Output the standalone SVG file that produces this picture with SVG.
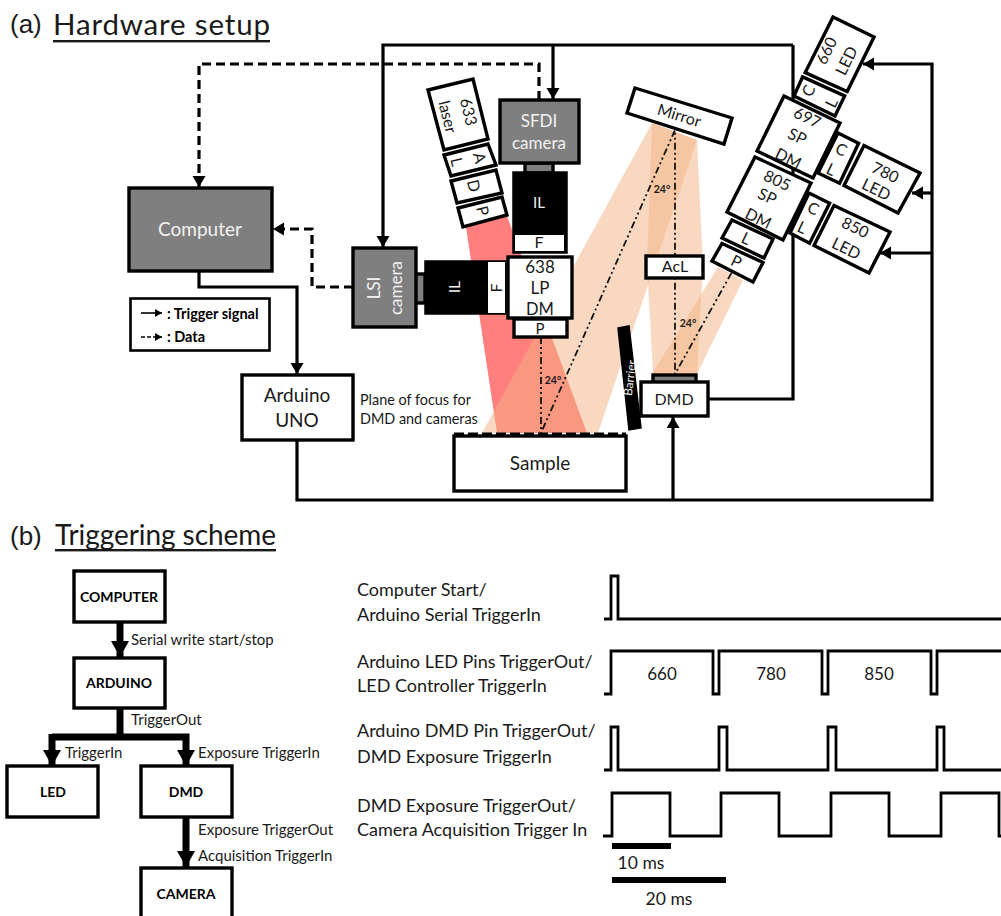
<svg xmlns="http://www.w3.org/2000/svg" width="1001" height="916" viewBox="0 0 1001 916">
<defs>
<marker id="ah" markerUnits="userSpaceOnUse" markerWidth="14" markerHeight="14" refX="11" refY="6.500" orient="auto"><path d="M0,0 L11,6.500 L0,13 Z" fill="#000"/></marker>
<marker id="ahs" markerUnits="userSpaceOnUse" markerWidth="8" markerHeight="8" refX="7" refY="4" orient="auto"><path d="M0,0 L7,4 L0,8 Z" fill="#000"/></marker>
<marker id="ahb" markerUnits="userSpaceOnUse" markerWidth="17" markerHeight="18" refX="16" refY="9" orient="auto"><path d="M0,0 L16,9 L0,18 Z" fill="#000"/></marker>
</defs>
<style>
text{font-family:Lato,"Open Sans",sans-serif;fill:#1a1a1a;text-anchor:middle}
.s{fill:#fff;stroke:#000;stroke-width:3.4}
.g{fill:#7f7f7f;stroke:#000;stroke-width:3.4}
.k{fill:#000;stroke:#000;stroke-width:1.500}
.w{fill:#f2f2f2}
.n{font-size:16px}
.m{font-size:17px}
.b{font-weight:700;font-size:14px;fill:#000}
.l{font-size:15px;text-anchor:start}
.h{font-size:18px;text-anchor:start}
.d{font-weight:700;font-size:10.500px}
.c{fill:none;stroke:#000;stroke-width:3.200}
.da{stroke-dasharray:9 5}
.dd{fill:none;stroke:#111;stroke-width:1.800;stroke-dasharray:7 3 2 3 2 3}
.t{fill:none;stroke:#000;stroke-width:7}
.v{fill:none;stroke:#000;stroke-width:2.800}
.bm{fill:#f4b183;opacity:.5}
</style>
<text x="10" y="33" style="font-family:'Liberation Sans',sans-serif;font-size:26px;text-anchor:start">(a)</text>
<text x="53" y="35" style="font-size:29.500px;text-anchor:start" textLength="217">Hardware setup</text>
<rect x="53" y="40" width="217" height="2.400" fill="#1a1a1a"/>
<text x="10" y="545" style="font-family:'Liberation Sans',sans-serif;font-size:26px;text-anchor:start">(b)</text>
<text x="55" y="545" style="font-size:28px;text-anchor:start" textLength="221">Triggering scheme</text>
<rect x="55" y="549" width="221" height="2.400" fill="#1a1a1a"/>

<g id="beams">
<path d="M466,227 L507,216 L587,433 L497,433 Z" fill="#ff7f7f"/>
<path class="bm" d="M652,123 L697,140 L598,433 L482,433 Z"/>
<path class="bm" d="M652,123 L697,140 L703,265 L697,374 L653,374 L647,265 Z"/>
<path class="bm" d="M718,267 L743,280 L697,374 L652,374 Z"/>
</g>

<g id="connectors">
<path class="c" d="M793,45 H383 V247" marker-end="url(#ah)"/>
<path class="c" d="M553,45 V99" marker-end="url(#ah)"/>
<path class="c" d="M793,45 V399 H708"/>
<path class="c da" d="M539,100 V64 H199 V187" marker-end="url(#ah)"/>
<path class="c da" d="M353,287 H312 V229 H273" marker-end="url(#ah)"/>
<path class="c" d="M199,271 V287 H297 V374" marker-end="url(#ah)"/>
<path class="c" d="M297,440 V500 H932 V64 H863" marker-end="url(#ah)"/>
<path class="c" d="M932,193 H912" marker-end="url(#ah)"/>
<path class="c" d="M932,253 H880" marker-end="url(#ah)"/>
<path class="c" d="M673,500 V417" marker-end="url(#ah)"/>
<path class="dd" d="M541,337 V433 L675,130 V374 L732,272"/>
<path class="t" d="M120,622 V657" marker-end="url(#ahb)"/>
<path class="t" d="M120,708 V737"/>
<path class="t" d="M52,737 H186 V766" marker-end="url(#ahb)"/>
<path class="t" d="M52,734 V766" marker-end="url(#ahb)"/>
<path class="t" d="M186,817 V867" marker-end="url(#ahb)"/>
</g>

<g id="computer"><rect class="g" x="129" y="188" width="143" height="83"/><text class="w" x="200" y="236" style="font-size:19px">Computer</text></g>
<g id="legend"><rect class="s" x="130.500" y="298.500" width="139" height="52" style="stroke-width:2.600"/>
<path d="M141,313 H162" stroke="#000" stroke-width="1.600" fill="none" marker-end="url(#ahs)"/>
<path d="M141,337 H162" stroke="#000" stroke-width="1.600" fill="none" stroke-dasharray="4 2" marker-end="url(#ahs)"/>
<text class="b" x="167" y="319" style="text-anchor:start;font-size:14.500px">: Trigger signal</text>
<text class="b" x="167" y="342" style="text-anchor:start;font-size:14.500px">: Data</text></g>
<g id="arduino"><rect class="s" x="242" y="375" width="111" height="65"/><text x="297" y="402" style="font-size:19px">Arduino</text><text x="297" y="427" style="font-size:19px">UNO</text></g>
<g id="focus-label"><text class="l" x="360" y="405" style="font-size:14.400px">Plane of focus for</text><text class="l" x="360" y="424" style="font-size:14.400px">DMD and cameras</text></g>

<g id="sfdi-camera"><rect class="g" x="525" y="163" width="28" height="10"/><rect class="g" x="500" y="100" width="79" height="63"/><text class="w" x="539" y="127" style="font-size:17px">SFDI</text><text class="w" x="539" y="149" style="font-size:17px">camera</text></g>
<g id="sfdi-il"><rect class="k" x="513" y="172" width="54" height="81"/><text class="w" x="539" y="208" style="font-size:15px">IL</text><rect x="515" y="235" width="49" height="16" fill="#fff"/><text class="n" x="539" y="248">F</text></g>
<g id="lsi-camera"><rect class="g" x="414" y="274" width="11" height="29"/><rect class="g" x="353" y="248" width="63" height="79"/><g transform="translate(374,288) rotate(-90)"><text class="w" y="6" style="font-size:17px">LSI</text></g><g transform="translate(396,288) rotate(-90)"><text class="w" y="6" style="font-size:17px">camera</text></g></g>
<g id="lsi-il"><rect class="k" x="425" y="261" width="81" height="53"/><g transform="translate(455,287) rotate(-90)"><text class="w" y="5" style="font-size:15px">IL</text></g><rect x="488" y="262" width="17" height="51" fill="#fff"/><g transform="translate(497,288) rotate(-90)"><text class="n" y="5">F</text></g></g>
<g id="p-sample"><rect class="s" x="514" y="319" width="53" height="18"/><text x="540" y="334" style="font-size:15px">P</text></g>
<g id="lp-dm"><rect class="s" x="508" y="257" width="64" height="61"/><text class="m" x="540" y="273">638</text><text class="m" x="540" y="294">LP</text><text x="540" y="315" style="font-size:16.500px">DM</text></g>

<g id="laser"><polygon class="s" points="428,90 473,79 488,139 444,150"/><g transform="translate(468,112) rotate(76)"><text class="n" y="5">633</text></g><g transform="translate(447,117) rotate(76)"><text class="n" y="5">laser</text></g></g>
<g id="laser-al"><polygon class="s" points="444,155 488,144 496,165 451,176"/><g transform="translate(479,158) rotate(76)"><text class="n" y="5">A</text></g><g transform="translate(456,162) rotate(76)"><text class="n" y="5">L</text></g></g>
<g id="laser-d"><polygon class="s" points="451,181 496,170 502,193 457,203"/><g transform="translate(473,186) rotate(76)"><text class="n" y="5">D</text></g></g>
<g id="laser-p"><polygon class="s" points="458,208 502,197 507,215 463,227"/><g transform="translate(482,211) rotate(76)"><text class="n" y="5">P</text></g></g>

<g id="mirror"><polygon class="s" points="635,88 732,118 724,144 627,113"/><g transform="translate(679,116) rotate(17)"><text class="n" y="5">Mirror</text></g></g>
<g id="acl"><rect class="s" x="646" y="256" width="57" height="22"/><text class="n" x="675" y="272">AcL</text></g>
<g id="led-660"><polygon class="s" points="833,17 874,37 847.200,91.600 805.200,72.600"/><g transform="translate(827,51) rotate(-64)"><text class="n" y="5">660</text></g><g transform="translate(847,61) rotate(-64)"><text class="n" y="5">LED</text></g></g>
<g id="cl-660"><polygon class="s" points="802.600,76.900 844.600,95.900 835,116 794,96"/><g transform="translate(809,91) rotate(-64)"><text class="n" y="5">C</text></g><g transform="translate(832,103) rotate(-64)"><text class="n" y="5">L</text></g></g>
<g id="dm-697"><polygon class="s" points="784,96 840,123 813,178 757,151"/><g transform="translate(807,118) rotate(26)"><text class="n" y="5">697</text></g><g transform="translate(797,137) rotate(26)"><text class="n" y="5">SP</text></g><g transform="translate(788,159) rotate(26)"><text class="n" y="5">DM</text></g></g>
<g id="dm-805"><polygon class="s" points="755,157 811,183 783,240 727,212"/><g transform="translate(777,181) rotate(26)"><text class="n" y="5">805</text></g><g transform="translate(767,197) rotate(26)"><text class="n" y="5">SP</text></g><g transform="translate(758,219) rotate(26)"><text class="n" y="5">DM</text></g></g>
<g id="l-dmd"><polygon class="s" points="732,220 773,239 764,258 722,238"/><g transform="translate(746,239) rotate(26)"><text class="n" y="5">L</text></g></g>
<g id="p-dmd"><polygon class="s" points="722,243.500 763,262.500 753,282 712,261"/><g transform="translate(736,262) rotate(26)"><text class="n" y="5">P</text></g></g>
<g id="cl-780"><polygon class="s" points="838,133 858.600,143.300 839.600,183.300 818,173"/><g transform="translate(841,150) rotate(26)"><text class="n" y="5">C</text></g><g transform="translate(831,170) rotate(26)"><text class="n" y="5">L</text></g></g>
<g id="led-780"><polygon class="s" points="864,145.500 920,173 898,213 844,185.500"/><g transform="translate(885,173) rotate(26)"><text class="n" y="5">780</text></g><g transform="translate(876,190) rotate(26)"><text class="n" y="5">LED</text></g></g>
<g id="cl-850"><polygon class="s" points="809,193 829.600,203.300 809.600,243.300 790,233"/><g transform="translate(813,209) rotate(26)"><text class="n" y="5">C</text></g><g transform="translate(802,228) rotate(26)"><text class="n" y="5">L</text></g></g>
<g id="led-850"><polygon class="s" points="834,205.500 890,232 869,273 814,245.500"/><g transform="translate(855,228) rotate(26)"><text class="n" y="5">850</text></g><g transform="translate(846,249) rotate(26)"><text class="n" y="5">LED</text></g></g>

<g id="barrier"><polygon class="k" points="618,328 629,326 641,428 629,430"/><g transform="translate(630,378) rotate(-83)"><text class="w" y="4" style="font-size:12px">Barrier</text></g></g>
<g id="dmd"><rect class="g" x="653" y="375" width="43" height="8"/><rect class="s" x="641" y="382" width="67" height="34"/><text x="674" y="405" style="font-size:16px">DMD</text></g>
<g id="sample"><rect class="s" x="454" y="436" width="172" height="55"/><line x1="454" y1="434" x2="626" y2="434" stroke="#000" stroke-width="3" stroke-dasharray="10 4"/><text x="540" y="470" style="font-size:19px">Sample</text></g>
<g id="angles"><text class="d" x="553" y="384">24°</text><text class="d" x="688" y="327">24°</text><text class="d" x="662" y="193">24°</text></g>

<g id="b-computer"><rect class="s" x="74" y="571" width="91" height="51"/><text class="b" x="119" y="602">COMPUTER</text></g>
<g id="b-arduino"><rect class="s" x="74" y="658" width="91" height="50"/><text class="b" x="119" y="688">ARDUINO</text></g>
<g id="b-led"><rect class="s" x="7" y="766" width="91" height="51"/><text class="b" x="53" y="797">LED</text></g>
<g id="b-dmd"><rect class="s" x="141" y="766" width="91" height="51"/><text class="b" x="186" y="797">DMD</text></g>
<g id="b-camera"><rect class="s" x="141" y="868" width="91" height="52"/><text class="b" x="186" y="899">CAMERA</text></g>
<g id="b-labels">
<text class="l" x="131" y="645">Serial write start/stop</text>
<text class="l" x="131" y="725">TriggerOut</text>
<text class="l" x="65" y="758">TriggerIn</text>
<text class="l" x="198" y="758">Exposure TriggerIn</text>
<text class="l" x="198" y="835">Exposure TriggerOut</text>
<text class="l" x="198" y="861">Acquisition TriggerIn</text>
</g>
<g id="signal-labels">
<text class="h" x="357" y="596">Computer Start/</text><text class="h" x="357" y="621">Arduino Serial TriggerIn</text>
<text class="h" x="357" y="668">Arduino LED Pins TriggerOut/</text><text class="h" x="357" y="692">LED Controller TriggerIn</text>
<text class="h" x="357" y="737">Arduino DMD Pin TriggerOut/</text><text class="h" x="357" y="763">DMD Exposure TriggerIn</text>
<text class="h" x="357" y="812">DMD Exposure TriggerOut/</text><text class="h" x="357" y="836">Camera Acquisition Trigger In</text>
</g>
<g id="waveforms">
<path class="v" d="M604,619 H611 V576 H618 V619 H1001"/>
<path class="v" d="M604,694 H611 V651 H713 V694 H719 V651 H822 V694 H828 V651 H931 V694 H937 V651 H1001"/>
<path class="v" d="M604,770 H611 V727 H618 V770 H719 V727 H727 V770 H828 V727 H836 V770 H937 V727 H944 V770 H1001"/>
<path class="v" d="M603,836 H612 V793 H670 V836 H721 V793 H779 V836 H831 V793 H889 V836 H941 V793 H999 V836 H1001"/>
<rect x="612" y="843" width="59" height="6"/><rect x="612" y="877" width="114" height="6"/>
<text class="m" x="662" y="680">660</text><text class="m" x="771" y="680">780</text><text class="m" x="879" y="680">850</text>
<text x="641" y="869" style="font-size:17.500px">10 ms</text><text x="669" y="905" style="font-size:17.500px">20 ms</text>
</g>
</svg>
